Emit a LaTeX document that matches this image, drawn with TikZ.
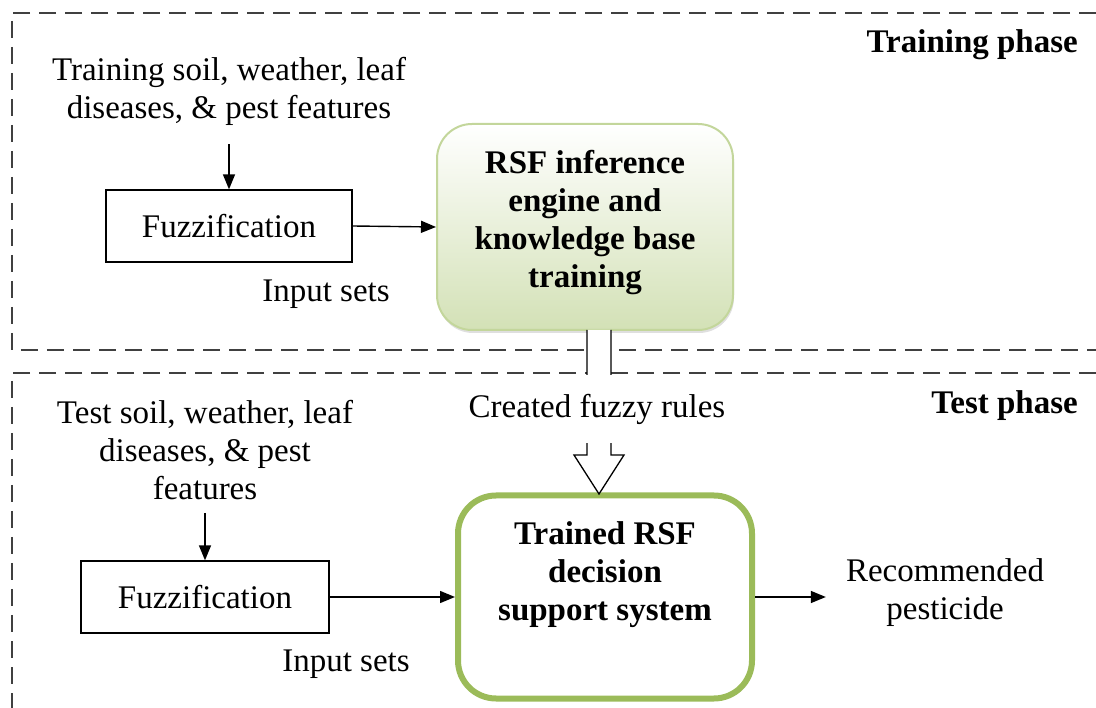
\documentclass[tikz,border=0pt]{standalone}
\usepackage{fontspec}
\setmainfont{Liberation Serif}
\usetikzlibrary{calc, arrows.meta, shadows}

\definecolor{rsfLine}{HTML}{C3D69B}
\definecolor{rsfFill}{HTML}{D3E1B6}
\definecolor{dssLine}{HTML}{9BBB59}
\definecolor{dashGray}{HTML}{404040}

\tikzset{
	phase/.style={draw=dashGray, line width=1.4pt, dash pattern=on 17pt off 9pt},
	txt/.style={font=\fontsize{33}{38}\selectfont, align=center, inner sep=0pt},
	boldtxt/.style={txt, font=\fontsize{33}{38}\selectfont\bfseries},
	fuzzbox/.style={txt, draw, line width=1.3pt, minimum width=246pt, minimum height=72pt},
	rsfbox/.style={draw=rsfLine, line width=2pt, rounded corners=35pt,
		minimum width=296pt, minimum height=206pt, top color=white, bottom color=rsfFill,
		drop shadow={shadow xshift=1pt, shadow yshift=-3pt, opacity=0.25}},
	dssbox/.style={draw=dssLine, line width=6pt, rounded corners=38pt,
		minimum width=294pt, minimum height=203pt},
	flow/.style={line width=1.4pt, -{Triangle[length=15pt,width=12pt]}},
}

\begin{document}
\begin{tikzpicture}[x=1pt, y=-1pt]
	\useasboundingbox (0,0) rectangle (1096,708);

	% phase frames
	\draw[phase] (1096,13) -- (12,13) -- (12,350) -- (1096,350);
	\draw[phase] (1096,373) -- (12,373) -- (12,708);

	\node[boldtxt, anchor=east] (trainTitle) at (1078,45) {Training phase};
	\node[boldtxt, anchor=east] (testTitle) at (1078,406) {Test phase};

	% training phase
	\node[txt] (trainIn) at (229,91) {Training soil, weather, leaf\\diseases, \& pest features};
	\node[fuzzbox] (fuzzTrain) at (229,226) {Fuzzification};
	\node[txt] (setsTrain) at (326,294) {Input sets};
	\node[rsfbox] (rsf) at (585,227) {};
	\node[boldtxt] (rsfTxt) at (585,223) {RSF inference\\engine and\\knowledge base\\training};

	\draw[flow, shorten <=19pt] (trainIn.south) -- (fuzzTrain.north);
	\draw[flow] (fuzzTrain.east) -- (rsf.west);

	% test phase
	\node[txt] (testIn) at (205,450) {Test soil, weather, leaf\\diseases, \& pest\\features};
	\node[fuzzbox, minimum width=248pt] (fuzzTest) at (205,597) {Fuzzification};
	\node[txt] (setsTest) at (346,664) {Input sets};
	\node[dssbox] (dss) at (605,597) {};
	\node[boldtxt] (dssTxt) at (605,575) {Trained RSF\\decision\\support system};
	\node[txt] (recPest) at (945,593) {Recommended\\pesticide};

	\draw[flow, shorten <=13pt] (testIn.south) -- (fuzzTest.north);
	\draw[flow] (fuzzTest.east) -- (fuzzTest.east -| dss.west);
	\draw[flow, shorten >=20pt] (dss.east) -- (dss.east -| recPest.west);

	% created rules block arrow
	\coordinate (ruleTop) at (599,330);
	\coordinate (ruleTip) at (599,494);
	\draw[line width=1.3pt, fill=white] ($(ruleTop)+(-12,0)$) -- ($(ruleTip)+(-12,-39)$)
		-- ($(ruleTip)+(-25,-39)$) -- (ruleTip) -- ($(ruleTip)+(25,-39)$)
		-- ($(ruleTip)+(12,-39)$) -- ($(ruleTop)+(12,0)$);
	\node[txt, fill=white, inner xsep=3pt, text height=43pt, text depth=25pt, anchor=base]
		(rulesLbl) at (597,418) {Created fuzzy rules};
\end{tikzpicture}
\end{document}
